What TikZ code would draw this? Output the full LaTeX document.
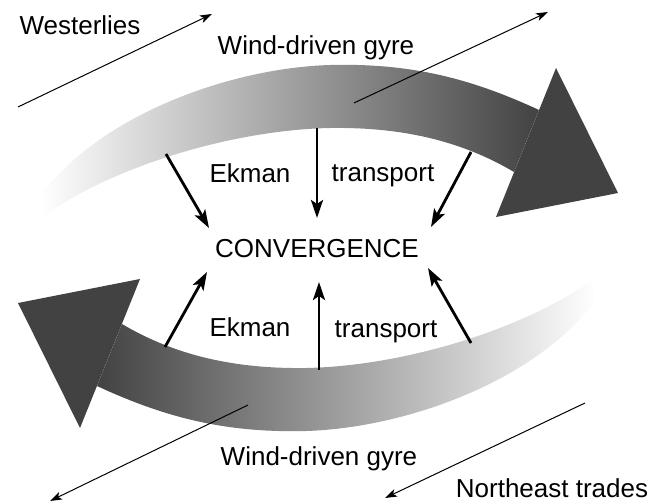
\documentclass[tikz,border=0pt]{standalone}
\usepackage{fontspec}
\setmainfont{Liberation Sans}
\usetikzlibrary{arrows.meta}
\tikzset{wind/.style = {line width=1pt, -{Stealth[length=12pt, width=8pt, inset=3pt]}}}
\tikzset{ekman/.style = {line width=2.8pt, -{Stealth[length=18pt, width=12pt, inset=4pt]}}}
\tikzset{lbl/.style = {anchor=base, inner sep=0pt, font=\fontsize{26}{30}\selectfont}}
\tikzset{shaft-up/.style = {left color=white, middle color=black!28, right color=black!74}}
\tikzset{shaft-down/.style = {left color=black!74, middle color=black!28, right color=white}}
\tikzset{gyrehead/.style = {fill=black!74}}
\newcommand{\gyre}[1]{%
  \shade[#1]
    (539,110) .. controls (470,78) and (410,63) .. (330,65)
    .. controls (230,68) and (100,115) .. (40,196) -- (44,216)
    .. controls (110,168) and (230,130) .. (330,128)
    .. controls (400,127) and (460,140) .. (514,172) -- cycle;
  \fill[gyrehead] (556,68) -- (618,193) -- (496,217) -- cycle;}

\begin{document}
\begin{tikzpicture}[x=1pt, y=-1pt]

      \useasboundingbox (0,0) rectangle (656,502);

      % upper gyre
      \gyre{shaft-up}
      % lower gyre
      \begin{scope}[rotate around={180:(318,248)}]
        \gyre{shaft-down}
      \end{scope}

      % winds
      \coordinate (wl-s) at (18,107);
      \coordinate (wl-e) at (212,14);
      \coordinate (wr-s) at (354,103);
      \coordinate (wr-e) at (548,12);
      \coordinate (tl-s) at (248,405);
      \coordinate (tl-e) at (50,501);
      \coordinate (tr-s) at (585,403);
      \coordinate (tr-e) at (385,498);
      \draw[wind] (wl-s) -- (wl-e);
      \draw[wind] (wr-s) -- (wr-e);
      \draw[wind] (tl-s) -- (tl-e);
      \draw[wind] (tr-s) -- (tr-e);

      % Ekman transport
      \coordinate (ek1-s) at (166,154);
      \coordinate (ek1-e) at (209,228);
      \coordinate (ek2-s) at (317,128);
      \coordinate (ek2-e) at (317,218);
      \coordinate (ek3-s) at (471,152);
      \coordinate (ek3-e) at (431,227);
      \coordinate (ek4-s) at (165,347);
      \coordinate (ek4-e) at (207,272);
      \coordinate (ek5-s) at (319,370);
      \coordinate (ek5-e) at (319,282);
      \coordinate (ek6-s) at (471,343);
      \coordinate (ek6-e) at (428,268);
      \draw[ekman] (ek1-s) -- (ek1-e);
      \draw[ekman] (ek2-s) -- (ek2-e);
      \draw[ekman] (ek3-s) -- (ek3-e);
      \draw[ekman] (ek4-s) -- (ek4-e);
      \draw[ekman] (ek5-s) -- (ek5-e);
      \draw[ekman] (ek6-s) -- (ek6-e);

      % labels
      \node[lbl] (westerlies) at (80,35)  {Westerlies};
      \node[lbl] (gyre-top)   at (316,55) {Wind-driven gyre};
      \node[lbl] (ekman-top)  at (250,183) {Ekman};
      \node[lbl] (trans-top)  at (383,182) {transport};
      \node[lbl] (conv)       at (317,258) {CONVERGENCE};
      \node[lbl] (ekman-bot)  at (250,337) {Ekman};
      \node[lbl] (trans-bot)  at (386,338) {transport};
      \node[lbl] (gyre-bot)   at (319,465) {Wind-driven gyre};
      \node[lbl] (trades)     at (552,497) {Northeast trades};

    \end{tikzpicture}
\end{document}
